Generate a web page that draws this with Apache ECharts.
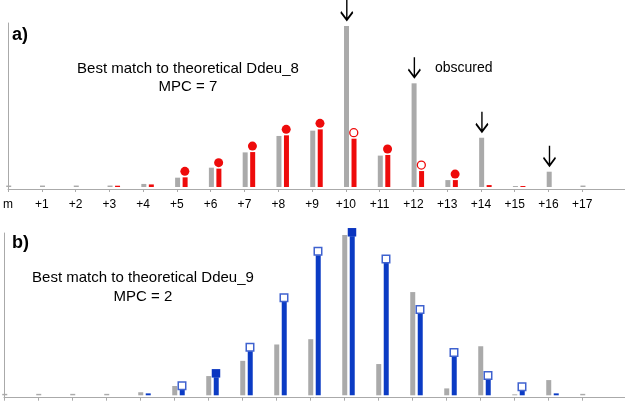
<!DOCTYPE html>
<html>
<head>
<meta charset="utf-8">
<script src="https://cdn.jsdelivr.net/npm/echarts@6/dist/echarts.min.js"></script>
<style>
  html, body { margin: 0; padding: 0; background: #fff; }
  #chart { width: 625px; height: 401px; }
</style>
</head>
<body>
<div id="chart"></div>
<script>
// mass offsets from the monoisotopic peak
const tickLabels = ["m", "+1", "+2", "+3", "+4", "+5", "+6", "+7", "+8", "+9",
  "+10", "+11", "+12", "+13", "+14", "+15", "+16", "+17"];
// observed isotope distribution (relative intensity, %)
const observed = [0.9, 0.9, 0.9, 0.9, 1.9, 5.8, 12, 21.5, 31.7, 35, 100, 19.5, 64.4, 4.3, 30.6, 0.6, 9.5, 0.9];
// theoretical Ddeu_8 (panel a)
const ddeu8 = [0, 0, 0, 0.8, 1.6, 6, 11.4, 21.7, 32.1, 35.8, 30, 19.9, 9.9, 4.3, 1.2, 0.6, 0, 0];
const ddeu8Marker = [null, null, null, null, null, "fill", "fill", "fill", "fill", "fill",
  "open", "fill", "open", "fill", null, null, null, null];
// peaks marked with arrows in panel a
const arrowPeaks = [10, 12, 14, 16];
// theoretical Ddeu_9 (panel b)
const ddeu9 = [0, 0, 0, 0, 1.2, 3.5, 11.2, 27.5, 58.4, 87.4, 99.2, 82.6, 51.1, 24.2, 9.8, 2.9, 1.2, 0];
const ddeu9Marker = [null, null, null, null, null, "open", "fill", "open", "open", "open",
  "fill", "open", "open", "open", "open", "open", null, null];

const GRAY = "#aaaaaa";
const RED = "#ee0b0b";
const BLUE = "#0b3bc4";
const FONT = "'Liberation Sans', Arial, sans-serif";

const pairs = (arr) => arr.map((v, i) => [i, v]);
const pick = (arr, marks, kind) => arr.map((v, i) => [i, v]).filter((d, i) => marks[i] === kind);

const xMax = 621 / 34;
const shift = 0.132;

function visibleX(grid, showLabels) {
  return {
    type: "value",
    gridIndex: grid,
    min: 0,
    max: xMax,
    axisLine: { show: true, onZero: false, lineStyle: { color: GRAY, width: 1 } },
    axisTick: { show: true, length: 3, lineStyle: { color: GRAY }, customValues: tickLabels.map((t, i) => i) },
    axisLabel: {
      show: showLabels,
      margin: 10,
      color: "#000",
      fontSize: 12,
      fontFamily: FONT,
      customValues: tickLabels.map((t, i) => i),
      formatter: (v) => tickLabels[Math.round(v)] || "",
    },
    splitLine: { show: false },
  };
}
function shiftedX(grid) {
  return { type: "value", gridIndex: grid, min: -shift, max: xMax - shift, show: false };
}
function yAxis(grid, min, max) {
  return {
    type: "value",
    gridIndex: grid,
    min: min,
    max: max,
    axisLine: { show: true, onZero: false, lineStyle: { color: GRAY, width: 1 } },
    axisTick: { show: false },
    axisLabel: { show: false },
    splitLine: { show: false },
  };
}

const chart = echarts.init(document.getElementById("chart"));
const option = {
  animation: false,
  grid: [
    { left: 4, right: 0, top: 23, height: 166 },
    { left: 4, right: 0, top: 233, height: 164.7 },
  ],
  xAxis: [visibleX(0, true), shiftedX(0), visibleX(1, false), shiftedX(1)],
  yAxis: [yAxis(0, -1.24, 101.86), yAxis(1, -1.5, 101.25)],
  graphic: [
    { type: "text", x: 12, y: 35, style: { text: "a)", font: "bold 18px " + FONT, fill: "#000", textVerticalAlign: "middle", verticalAlign: "middle" } },
    { type: "text", x: 188, y: 59.3, style: { text: "Best match to theoretical Ddeu_8\nMPC = 7", font: "15px " + FONT, lineHeight: 18.4, fill: "#000", textAlign: "center", align: "center" } },
    { type: "text", x: 435, y: 68, style: { text: "obscured", font: "14px " + FONT, fill: "#000", textVerticalAlign: "middle", verticalAlign: "middle" } },
    { type: "text", x: 12, y: 243, style: { text: "b)", font: "bold 18px " + FONT, fill: "#000", textVerticalAlign: "middle", verticalAlign: "middle" } },
    { type: "text", x: 143, y: 268.9, style: { text: "Best match to theoretical Ddeu_9\nMPC = 2", font: "15px " + FONT, lineHeight: 18.4, fill: "#000", textAlign: "center", align: "center" } },
  ],
  series: [
    // panel a
    { type: "bar", xAxisIndex: 1, yAxisIndex: 0, data: pairs(observed), barWidth: 5, barGap: "50%", itemStyle: { color: GRAY } },
    { type: "bar", xAxisIndex: 1, yAxisIndex: 0, data: pairs(ddeu8), barWidth: 5, barGap: "50%", itemStyle: { color: RED } },
    {
      type: "scatter", xAxisIndex: 1, yAxisIndex: 0, clip: false, z: 3,
      data: pick(ddeu8, ddeu8Marker, "fill"),
      symbol: "circle", symbolSize: 9, symbolOffset: [3.5, -6],
      itemStyle: { color: RED, opacity: 1 },
    },
    {
      type: "scatter", xAxisIndex: 1, yAxisIndex: 0, clip: false, z: 3,
      data: pick(ddeu8, ddeu8Marker, "open"),
      symbol: "circle", symbolSize: 8, symbolOffset: [3.5, -6],
      itemStyle: { color: "#fff", borderColor: RED, borderWidth: 1.3, opacity: 1 },
    },
    {
      type: "scatter", xAxisIndex: 0, yAxisIndex: 0, clip: false, z: 3,
      data: arrowPeaks.map((i) => [i, observed[i]]),
      symbol: "path://M6,0L6,20M0,12L6,20L12,12",
      symbolSize: [12, 20], symbolOffset: [1, -16],
      itemStyle: { color: "transparent", borderColor: "#000", borderWidth: 1.8, opacity: 1 },
    },
    // panel b
    { type: "bar", xAxisIndex: 3, yAxisIndex: 1, data: pairs(observed), barWidth: 5, barGap: "50%", itemStyle: { color: GRAY } },
    { type: "bar", xAxisIndex: 3, yAxisIndex: 1, data: pairs(ddeu9), barWidth: 5, barGap: "50%", itemStyle: { color: BLUE } },
    {
      type: "scatter", xAxisIndex: 3, yAxisIndex: 1, clip: false, z: 3,
      data: pick(ddeu9, ddeu9Marker, "fill"),
      symbol: "rect", symbolSize: 8.5, symbolOffset: [3.5, -4],
      itemStyle: { color: "#0a35c0", opacity: 1 },
    },
    {
      type: "scatter", xAxisIndex: 3, yAxisIndex: 1, clip: false, z: 3,
      data: pick(ddeu9, ddeu9Marker, "open"),
      symbol: "rect", symbolSize: 7.5, symbolOffset: [3.5, -4],
      itemStyle: { color: "#fff", borderColor: "#3f62cf", borderWidth: 1.5, opacity: 1 },
    },
  ],
};
chart.setOption(option);
</script>
</body>
</html>
